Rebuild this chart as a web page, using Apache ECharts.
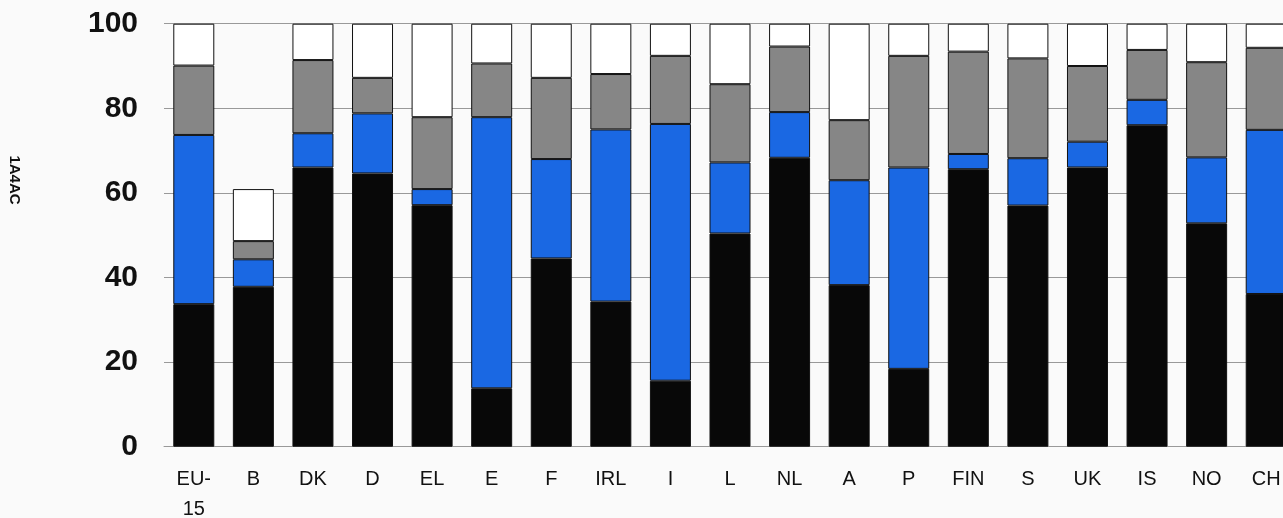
<!DOCTYPE html>
<html>
<head>
<meta charset="utf-8">
<script src="https://cdn.jsdelivr.net/npm/echarts@6/dist/echarts.min.js"></script>
<style>
html,body{margin:0;padding:0;background:#fafafa;overflow:hidden;}
#c{width:1283px;height:518px;}
</style>
</head>
<body>
<div id="c"></div>
<script>
const categories = ['EU-\n15','B','DK','D','EL','E','F','IRL','I','L','NL','A','P','FIN','S','UK','IS','NO','CH'];
const blackValues = [33.7,37.8,66.0,64.6,57.1,13.8,44.5,34.3,15.6,50.4,68.3,38.2,18.4,65.6,57.0,66.0,76.0,52.8,36.1];
const blueValues  = [40.0,6.5,8.1,14.2,3.8,64.1,23.5,40.7,60.7,16.8,10.8,24.8,47.6,3.6,11.2,6.1,6.0,15.6,38.8];
const grayValues  = [16.4,4.3,17.3,8.4,17.0,12.7,19.2,13.1,16.1,18.5,15.5,14.2,26.4,24.2,23.6,17.9,11.8,22.5,19.4];
const whiteValues = [9.9,12.3,8.6,12.8,22.1,9.4,12.8,11.9,7.6,14.3,5.4,22.8,7.6,6.6,8.2,10.0,6.2,9.1,5.7];
const yTicks = [0,20,40,60,80,100];
const yAxisTitle = '1A4AC';

const chart = echarts.init(document.getElementById('c'));
function seg(name, data, color) {
  return {
    name, type: 'bar', stack: 'total', data, barWidth: 41,
    itemStyle: { color, borderColor: '#111', borderWidth: 1 },
    emphasis: { disabled: true }
  };
}
chart.setOption({
  animation: false,
  backgroundColor: '#fafafa',
  grid: { left: 164, right: -13, top: 23.7, bottom: 518 - 446.7, containLabel: false, outerBoundsMode: 'none' },
  xAxis: {
    type: 'category', data: categories,
    axisLine: { show: true, lineStyle: { color: '#999', width: 1 } },
    axisTick: { show: false },
    axisLabel: { color: '#111', fontSize: 20, lineHeight: 30, margin: 18, fontFamily: 'Liberation Sans, Arial, sans-serif', interval: 0 }
  },
  yAxis: {
    type: 'value', min: 0, max: 100, interval: 20,
    axisLine: { show: false }, axisTick: { show: false },
    splitLine: { show: true, lineStyle: { color: '#999', width: 1 } },
    axisLabel: { color: '#111', fontSize: 30, fontWeight: 'bold', margin: 26, fontFamily: 'Liberation Sans, Arial, sans-serif',
      formatter: v => yTicks.includes(v) ? String(v) : '' }
  },
  graphic: [{
    type: 'text', x: 14, y: 180, rotation: -Math.PI / 2,
    style: { text: yAxisTitle, fill: '#111', font: 'bold 15px Liberation Sans, Arial, sans-serif', textAlign: 'center', textVerticalAlign: 'middle' }
  }],
  series: [
    seg('black', blackValues, '#080808'),
    seg('blue', blueValues, '#1a68e3'),
    seg('gray', grayValues, '#868686'),
    seg('white', whiteValues, '#ffffff')
  ]
});
</script>
</body>
</html>
